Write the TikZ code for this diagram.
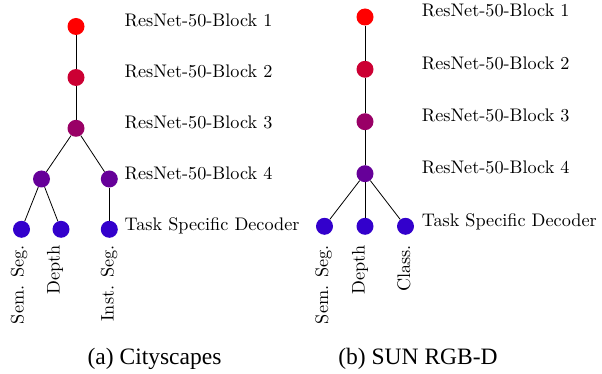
\documentclass[tikz,border=0pt]{standalone}
\usepackage{fontspec}
\newfontfamily\capfont{Liberation Serif}
\newcommand{\bigtxt}[1]{\scalebox{1.82}{#1}}
\begin{document}
\begin{tikzpicture}[x=1pt,y=-1pt,
  dotnode/.style={circle,minimum size=17pt,inner sep=0pt,fill=#1},
  lab/.style={anchor=base west,inner sep=0pt,font=\fontsize{10}{12}\selectfont},
  rlab/.style={rotate=90,anchor=base east,inner sep=0pt,font=\fontsize{10}{12}\selectfont},
  captext/.style={anchor=base,inner sep=0pt,font=\capfont\fontsize{23.5}{25}\selectfont},
  conn/.style={draw=black,line width=0.8pt}]
\useasboundingbox (0,0) rectangle (602,374);
\colorlet{c1}{red}
\colorlet{c2}{red!80!blue}
\colorlet{c3}{red!60!blue}
\colorlet{c4}{red!40!blue}
\colorlet{c5}{red!20!blue}
% left tree
\node[dotnode=c1] (la1) at (76,26.5) {};
\node[dotnode=c2] (la2) at (76,77.5) {};
\node[dotnode=c3] (la3) at (76,128.3) {};
\node[dotnode=c4] (la4) at (41.5,179) {};
\node[dotnode=c4] (lb4) at (109.3,179) {};
\node[dotnode=c5] (ld1) at (21.5,229.3) {};
\node[dotnode=c5] (ld2) at (61,229.3) {};
\node[dotnode=c5] (ld3) at (109.3,229.3) {};
\draw[conn] (la1) -- (la2);
\draw[conn] (la2) -- (la3);
\draw[conn] (la3) -- (la4);
\draw[conn] (la3) -- (lb4);
\draw[conn] (la4) -- (ld1);
\draw[conn] (la4) -- (ld2);
\draw[conn] (lb4) -- (ld3);
\node[lab] (lt1) at (124.5,27) {\bigtxt{ResNet-50-Block 1}};
\node[lab] (lt2) at (124.5,78) {\bigtxt{ResNet-50-Block 2}};
\node[lab] (lt3) at (124.5,129) {\bigtxt{ResNet-50-Block 3}};
\node[lab] (lt4) at (124.5,180) {\bigtxt{ResNet-50-Block 4}};
\node[lab] (lt5) at (124.5,230) {\bigtxt{Task Specific Decoder}};
\node[rlab] (lr1) at (23.5,245) {\bigtxt{Sem. Seg.}};
\node[rlab] (lr2) at (59.5,245) {\bigtxt{Depth}};
\node[rlab] (lr3) at (113.5,245) {\bigtxt{Inst. Seg.}};
% right tree
\node[dotnode=c1] (ra1) at (365,17) {};
\node[dotnode=c2] (ra2) at (365,69.3) {};
\node[dotnode=c3] (ra3) at (365,121.7) {};
\node[dotnode=c4] (ra4) at (365,173.7) {};
\node[dotnode=c5] (rd1) at (324.5,226.3) {};
\node[dotnode=c5] (rd2) at (365,226.3) {};
\node[dotnode=c5] (rd3) at (405.5,226.3) {};
\draw[conn] (ra1) -- (ra2);
\draw[conn] (ra2) -- (ra3);
\draw[conn] (ra3) -- (ra4);
\draw[conn] (ra4) -- (rd1);
\draw[conn] (ra4) -- (rd2);
\draw[conn] (ra4) -- (rd3);
\node[lab] (rt1) at (421.7,17) {\bigtxt{ResNet-50-Block 1}};
\node[lab] (rt2) at (421.7,69.3) {\bigtxt{ResNet-50-Block 2}};
\node[lab] (rt3) at (421.7,121.7) {\bigtxt{ResNet-50-Block 3}};
\node[lab] (rt4) at (421.7,173.7) {\bigtxt{ResNet-50-Block 4}};
\node[lab] (rt5) at (421.7,226.3) {\bigtxt{Task Specific Decoder}};
\node[rlab] (rr1) at (328,245) {\bigtxt{Sem. Seg.}};
\node[rlab] (rr2) at (364.5,245) {\bigtxt{Depth}};
\node[rlab] (rr3) at (410,245) {\bigtxt{Class.}};
% captions
\node[captext] (capa) at (154.5,364) {(a) Cityscapes};
\node[captext] (capb) at (418,364) {(b) SUN RGB-D};
\end{tikzpicture}
\end{document}
